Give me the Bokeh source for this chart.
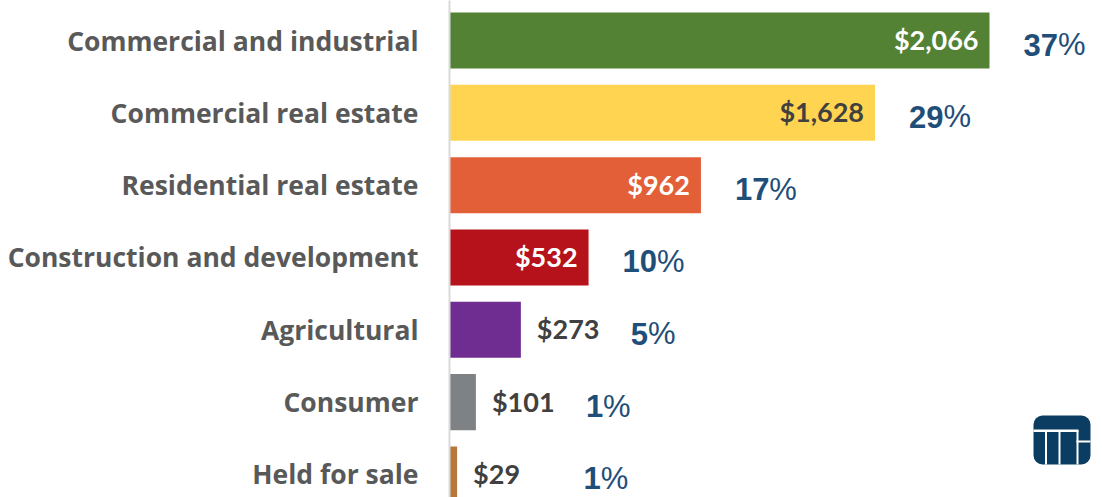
from bokeh.plotting import figure
from bokeh.models import Range1d, FixedTicker, ColumnDataSource, BoxAnnotation
from bokeh.core.properties import value
from bokeh.embed import file_html
from bokeh.resources import INLINE

# ---- data ----
categories = ["Commercial and industrial", "Commercial real estate", "Residential real estate",
              "Construction and development", "Agricultural", "Consumer", "Held for sale"]
amounts = [2066, 1628, 962, 532, 273, 101, 29]
value_labels = ["$2,066", "$1,628", "$962", "$532", "$273", "$101", "$29"]
pct_numbers = ["37", "29", "17", "10", "5", "1", "1"]
bar_colors = ["#548235", "#FFD451", "#E35F38", "#B5121B", "#6F2C91", "#7F8285", "#B7773A"]

# ---- layout ----
W, H = 1102, 497
LEFT = 449
frame_w = W - LEFT
ppu = 540 / 2066.0
x_end = frame_w / ppu
ppy = 72.33
y_top = -40 / ppy
y_bot = y_top + H / ppy

p = figure(width=W, height=H, output_backend="svg", toolbar_location=None,
           x_range=Range1d(0, x_end), y_range=Range1d(y_bot, y_top),
           min_border_left=LEFT, min_border_right=0, min_border_top=0, min_border_bottom=0)
p.outline_line_color = None
p.xgrid.visible = False
p.ygrid.visible = False
p.xaxis.visible = False
p.background_fill_color = "white"
p.border_fill_color = "white"

idx = list(range(len(categories)))
p.hbar(y=idx, left=0, right=amounts, height=0.775, fill_color=bar_colors, line_color=None)

ax = p.yaxis[0]
ax.ticker = FixedTicker(ticks=idx)
ax.major_label_overrides = {i: c for i, c in zip(idx, categories)}
ax.major_tick_out = 0
ax.major_tick_in = 0
ax.minor_tick_out = 0
ax.minor_tick_in = 0
ax.major_label_standoff = 31
ax.axis_line_color = "#D9D9D9"
ax.axis_line_width = 2
ax.major_label_text_font = "Open Sans"
ax.major_label_text_font_style = "bold"
ax.major_label_text_font_size = "26.5px"
ax.major_label_text_color = "#595959"


def is_dark(hexc):
    r, g, b = int(hexc[1:3], 16), int(hexc[3:5], 16), int(hexc[5:7], 16)
    return 0.299 * r + 0.587 * g + 0.114 * b < 170


CHAR_W = 15.5
vx, vxo, valign, vcol = [], [], [], []
px_off, pct_off = [], []
for a, lab, num, col in zip(amounts, value_labels, pct_numbers, bar_colors):
    bar_px = a * ppu
    lw = len(lab) * CHAR_W
    inside = bar_px > lw + 20
    vx.append(a)
    if inside:
        vxo.append(-11)
        valign.append("right")
        vcol.append("white" if is_dark(col) else "#404040")
        left_px = bar_px + 34
    else:
        vxo.append(16)
        valign.append("left")
        vcol.append("#404040")
        left_px = bar_px + 16 + lw + 32
    left_px = max(left_px, 134)
    digits_w = len(num) * 17.2
    px_off.append(left_px - bar_px)
    pct_off.append(left_px - bar_px + digits_w)

src = ColumnDataSource(dict(y=idx, x=vx, xo=vxo, align=valign, col=vcol, txt=value_labels,
                            num=pct_numbers, po=px_off, pc=pct_off,
                            pct=["%"] * len(idx)))

p.text(x="x", y="y", text="txt", x_offset="xo", y_offset=-1, text_align="align",
       text_baseline="middle", text_color="col", text_font=value("Lato"),
       text_font_style="bold", text_font_size="27px", source=src)

p.text(x="x", y="y", text="num", x_offset="po", y_offset=4, text_align="left",
       text_baseline="middle", text_color="#1F4E79", text_font=value("Liberation Sans"),
       text_font_style="bold", text_font_size="31px", source=src)
p.text(x="x", y="y", text="pct", x_offset="pc", y_offset=4, text_align="left",
       text_baseline="middle", text_color="#1F4E79", text_font=value("Liberation Sans"),
       text_font_style="normal", text_font_size="31px", source=src)

# ---- logo (decoration, canvas units) ----
def sbox(l, r, t, b, color, radius=0):
    kw = dict(left=l, right=r, top=t, bottom=b,
              left_units="canvas", right_units="canvas", top_units="canvas", bottom_units="canvas",
              fill_color=color, fill_alpha=1.0, line_color=None)
    if radius:
        kw["border_radius"] = radius
    p.add_layout(BoxAnnotation(**kw))

navy = "#0B3C61"
sbox(1033, 1090, 415, 464, navy, radius=9)
sbox(1033, 1078, 429, 431.5, "white")
sbox(1044.5, 1046.5, 430, 464, "white")
sbox(1058, 1060, 430, 464, "white")
sbox(1076, 1078, 430, 464, "white")
sbox(1076, 1090, 440, 442, "white")

open("out.html", "w").write(file_html(p, INLINE))
